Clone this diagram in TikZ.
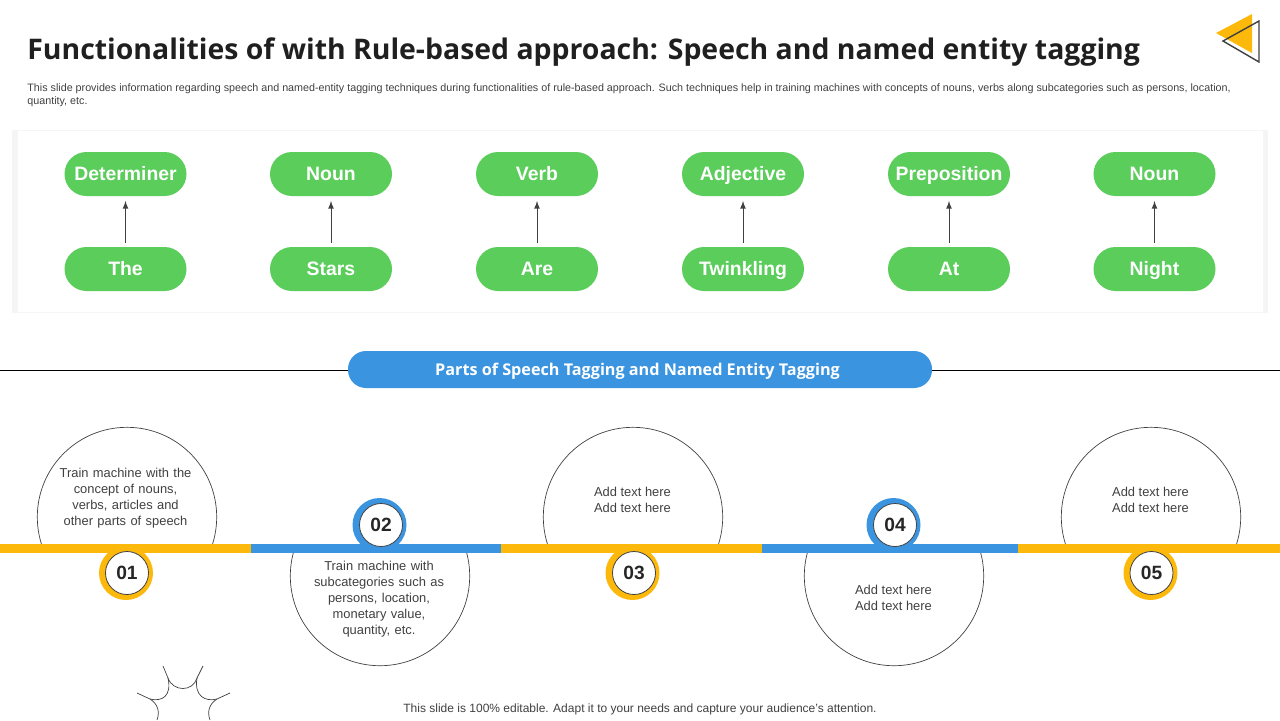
\documentclass[tikz,border=0pt]{standalone}
\usepackage{fontspec}
\setmainfont{Liberation Sans}
\newfontfamily\titlefont{Open Sans}
\usetikzlibrary{positioning}
\definecolor{tagGreen}{HTML}{5ACD5B}
\definecolor{tagBlue}{HTML}{3B94E0}
\definecolor{tagYellow}{HTML}{FDB90B}
\definecolor{tagDark}{HTML}{404040}
\tikzset{
  tagpill/.style={fill=tagGreen, text=white, rounded corners=11pt, minimum width=61pt, minimum height=22pt, inner sep=0pt, text height=7.5pt, text depth=1.5pt, font=\bfseries\fontsize{9.7}{11}\selectfont},
  bubble/.style={circle, draw=tagDark, line width=0.35pt, minimum size=89.7pt, inner sep=0pt},
  bubbletext/.style={text=tagDark, align=center, inner sep=0pt, font=\fontsize{6.45}{8}\selectfont},
  widetext/.style={font={\fontsize{6.45}{8}\selectfont\spaceskip 2.2pt\relax}},
  ring/.style={circle, minimum size=27pt, inner sep=0pt},
  badge/.style={circle, fill=white, draw=tagDark, line width=0.4pt, minimum size=21.5pt, inner sep=0pt, text=black!85, font=\bfseries\fontsize{9.6}{12}\selectfont},
}

\begin{document}
\begin{tikzpicture}[x=0.5pt, y=-0.5pt]
\useasboundingbox (0,0) rectangle (1280,720);
%% heading
\node (heading) at (27,52.5) [anchor=west, inner sep=0pt, text=black!88, font=\titlefont\bfseries\fontsize{14.2}{18}\selectfont] {Functionalities of with Rule-based approach: Speech and named entity tagging};
\node (intro) at (27,95) [anchor=west, inner sep=0pt, align=left, text=tagDark, font=\fontsize{5.37}{6.5}\selectfont] {This slide provides information regarding speech and named-entity tagging techniques during functionalities of rule-based approach. Such techniques help in training machines with concepts of nouns, verbs along subcategories such as persons, location,\\quantity, etc.};
\fill [tagYellow] (1216,33) -- (1252,14) -- (1252,53) -- cycle;
\draw [tagDark, line width=0.7pt] (1223,41) -- (1259,21) -- (1259,62) -- cycle;
%% panel
\fill [black!4] (12,130) rectangle (1268,313);
\fill [white] (17.5,131) rectangle (1263,312);
\foreach \n/\x/\upper/\lower in {1/125.5/Determiner/The, 2/331/Noun/Stars, 3/537/Verb/Are, 4/743/Adjective/Twinkling, 5/949/Preposition/At, 6/1154.5/Noun/Night} {
  \node [tagpill] (upper\n) at (\x,174) {\upper};
  \node [tagpill] (lower\n) at (\x,269) {\lower};
  \draw [-latex, draw=tagDark, line width=0.35pt, shorten <=2pt, shorten >=2.3pt] (lower\n) -- (upper\n);
}
%% banner
\coordinate (leftend) at (0,370);
\coordinate (rightend) at (1280,370);
\node (banner) at (640,369.5) [fill=tagBlue, text=white, rounded corners=9pt, minimum width=292pt, minimum height=18.5pt, inner sep=0pt, text height=6.5pt, text depth=0.5pt, font=\titlefont\bfseries\fontsize{8.1}{10}\selectfont] {\hspace*{-2.5pt}Parts of Speech Tagging and Named Entity Tagging};
\draw [line width=0.4pt] (leftend) -- (leftend -| banner.west);
\draw [line width=0.4pt] (leftend -| banner.east) -- (rightend);
%% bubbles above the bar
\begin{scope}
\clip (0,0) rectangle (1280,545);
\foreach \n/\x in {1/127, 3/633, 5/1151}
  \node [bubble] (bubble\n) at (\x,517) {};
\end{scope}
%% bubbles below the bar
\begin{scope}
\clip (0,552) rectangle (1280,720);
\foreach \n/\x in {2/380, 4/894}
  \node [bubble] (bubble\n) at (\x,576) {};
\end{scope}
\node [bubbletext, widetext] (text1) at (125.5,498.5) {Train machine with the\\concept of nouns,\\verbs, articles and\\other parts of speech};
\node [bubbletext, widetext] (text2) at (379,599.5) {Train machine with\\subcategories such as\\persons, location,\\monetary value,\\quantity, etc.};
\node [bubbletext] (text3) at (632.5,499.5) {Add text here\\Add text here};
\node [bubbletext] (text4) at (893.5,597.5) {Add text here\\Add text here};
\node [bubbletext] (text5) at (1150.5,499.5) {Add text here\\Add text here};
%% bar and badges
\foreach \n/\x/\y/\c in {1/126/573/tagYellow, 2/379.5/525/tagBlue, 3/632.5/573/tagYellow, 4/893.5/525/tagBlue, 5/1150.5/573/tagYellow}
  \node [ring, fill=\c] (ring\n) at (\x,\y) {};
\foreach \a/\b/\c in {0/251/tagYellow, 251/501/tagBlue, 501/762/tagYellow, 762/1018/tagBlue, 1018/1280/tagYellow}
  \fill [\c] (\a,544) rectangle (\b,553);
\foreach \n/\x/\y in {1/127/573, 2/381/525, 3/634/573, 4/895/525, 5/1151.5/573}
  \node [badge] (badge\n) at (\x,\y) {0\n};
%% star
\draw [tagDark, line width=0.35pt] (163,666) -- (168,678) .. controls (173,692) and (193,692) .. (197,678) -- (203,666);
\draw [tagDark, line width=0.35pt] (137,693) -- (150,699) .. controls (162,702) and (172,696) .. (168,678);
\draw [tagDark, line width=0.35pt] (230,693) -- (217,699) .. controls (205,702) and (194,696) .. (197,678);
\draw [tagDark, line width=0.35pt] (150,699) .. controls (158,704) and (160,712) .. (157,720);
\draw [tagDark, line width=0.35pt] (217,699) .. controls (209,704) and (207,712) .. (210,720);
%% footer
\node (footer) at (640,709.5) [inner sep=0pt, text=tagDark, font=\fontsize{6}{7}\selectfont] {This slide is 100\% editable. Adapt it to your needs and capture your audience's attention.};
\end{tikzpicture}
\end{document}
